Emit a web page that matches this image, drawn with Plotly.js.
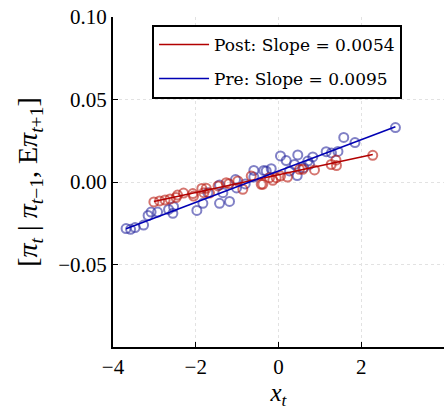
<!DOCTYPE html>
<html><head><meta charset="utf-8">
<script src="https://cdn.plot.ly/plotly-3.0.1.min.js"></script>
<style>html,body{margin:0;padding:0;background:#fff}</style>
</head><body><div id="chart" style="width:445px;height:410px"></div>
<script>
// Pre period scatter
const preX = [-3.684,-3.575,-3.466,-3.261,-3.152,-3.080,-2.923,-2.657,-2.536,-2.553,-1.973,-1.828,-1.707,-1.425,-1.184,-1.425,-1.345,-1.039,-1.014,-0.804,-0.596,-0.596,-0.355,-0.176,-0.297,0.048,0.186,0.266,0.386,0.466,0.452,0.611,0.708,0.829,1.152,1.280,1.437,1.577,1.848,2.826,0.749];
const preY = [-0.0282,-0.0287,-0.0276,-0.0261,-0.0203,-0.0182,-0.0182,-0.0166,-0.0150,-0.0190,-0.0172,-0.0129,-0.0065,-0.0129,-0.0118,-0.0018,-0.0065,0.0015,-0.0036,-0.0012,0.0070,0.0030,0.0070,0.0081,0.0067,0.0158,0.0130,0.0067,0.0106,0.0164,0.0039,0.0087,0.0127,0.0152,0.0184,0.0176,0.0185,0.0270,0.0239,0.0330,0.0107];
// Post period scatter
const postX = [-3.012,-2.874,-2.742,-2.621,-2.476,-2.440,-2.295,-2.070,-2.053,-1.853,-1.804,-1.746,-1.667,-1.461,-1.263,-1.200,-0.983,-0.862,-0.659,-0.418,-0.379,-0.217,-0.138,-0.055,0.048,0.217,0.507,0.587,0.870,1.273,1.389,1.401,2.278];
const postY = [-0.0121,-0.0115,-0.0109,-0.0103,-0.0094,-0.0079,-0.0067,-0.0070,-0.0085,-0.0039,-0.0065,-0.0038,-0.0067,-0.0024,-0.0004,-0.0010,0.0006,-0.0044,0.0036,-0.0014,-0.0014,0.0026,0.0010,0.0026,0.0036,0.0030,0.0077,0.0077,0.0073,0.0106,0.0133,0.0100,0.0162];
// Fitted lines
const seriesNames = ["Post: Slope = 0.0054", "Pre: Slope = 0.0095"];
const slopes = [0.0054, 0.0095];
const intercepts = [0.0044, 0.0067];
const yTickVals = [-0.05, 0.00, 0.05, 0.10];
const xTickVals = [-4, -2, 0, 2, 4];

function fitLine(xs, k) {
  const lo = Math.min(...xs), hi = Math.max(...xs);
  return {x: [lo, hi], y: [intercepts[k] + slopes[k]*lo, intercepts[k] + slopes[k]*hi]};
}
const postLine = fitLine(postX, 0);
const preLine = fitLine(preX, 1);

const mk = (c) => ({symbol: 'circle-open', size: 9, color: c, line: {width: 2, color: c}});
const traces = [
  {x: preX, y: preY, mode: 'markers', type: 'scatter', showlegend: false, marker: mk('rgba(45,45,160,0.6)'), hoverinfo: 'skip'},
  {x: postX, y: postY, mode: 'markers', type: 'scatter', showlegend: false, marker: mk('rgba(185,25,15,0.6)'), hoverinfo: 'skip'},
  {x: postLine.x, y: postLine.y, mode: 'lines', type: 'scatter', name: seriesNames[0], legendgroup: 'a', line: {color: '#b20000', width: 1.6}},
  {x: preLine.x, y: preLine.y, mode: 'lines', type: 'scatter', name: seriesNames[1], legendgroup: 'b', line: {color: '#0000b4', width: 1.6}}
];

const font = {family: 'Liberation Serif, DejaVu Serif, serif', color: '#000'};
const layout = {
  width: 445, height: 410,
  margin: {l: 113, r: 1, t: 17, b: 63},
  paper_bgcolor: '#fff', plot_bgcolor: '#fff',
  font: Object.assign({size: 19}, font),
  showlegend: true,
  legend: {x: 0.118, y: 0.976, xanchor: 'left', yanchor: 'top', bgcolor: '#fff', bordercolor: '#000', borderwidth: 2,
    font: {family: 'DejaVu Serif, serif', size: 17, color: '#000'}, traceorder: 'grouped', tracegroupgap: 9, itemwidth: 50},
  xaxis: {range: [-4, 4], tickvals: xTickVals, ticks: 'inside', ticklen: 5, tickwidth: 1, tickcolor: '#000',
    showline: true, linecolor: '#000', linewidth: 2, mirror: false, zeroline: false,
    showgrid: true, gridcolor: '#e2e2e2', griddash: 'dot', gridwidth: 1,
    tickfont: Object.assign({size: 21}, font),
    title: {text: '<i>x<sub>t</sub></i>', font: Object.assign({size: 25}, font), standoff: 12}},
  yaxis: {range: [-0.10, 0.10], tickvals: yTickVals, tickformat: '.2f', ticks: 'inside', ticklen: 5, tickwidth: 1, tickcolor: '#000',
    showline: true, linecolor: '#000', linewidth: 2, mirror: false, zeroline: false,
    showgrid: true, gridcolor: '#e2e2e2', griddash: 'dot', gridwidth: 1,
    tickfont: Object.assign({size: 21}, font),
    title: {text: '[<i>π<sub>t</sub></i> | <i>π</i><sub><i>t</i>−1</sub>, E<i>π</i><sub><i>t</i>+1</sub>]', font: Object.assign({size: 28}, font), standoff: 12}}
};
Plotly.newPlot('chart', traces, layout, {staticPlot: true, displayModeBar: false});
</script></body></html>
